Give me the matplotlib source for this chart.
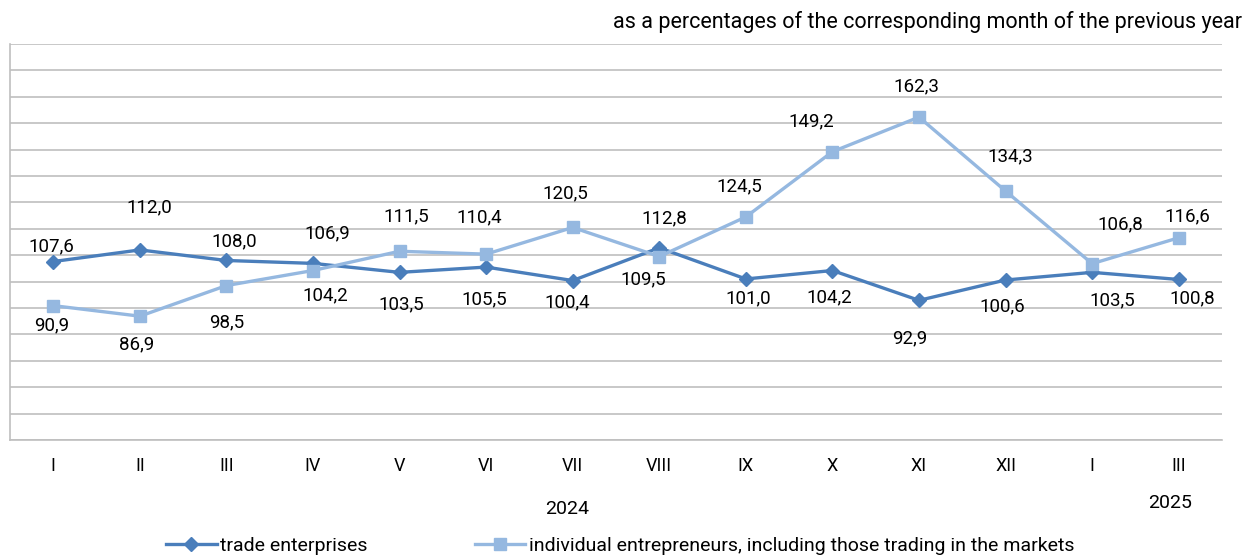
import matplotlib.pyplot as plt

plt.rcParams['font.family'] = ['Roboto', 'DejaVu Sans']

months = ['I', 'II', 'III', 'IV', 'V', 'VI', 'VII', 'VIII', 'IX', 'X', 'XI', 'XII', 'I', 'III']
trade = [107.6, 112.0, 108.0, 106.9, 103.5, 105.5, 100.4, 112.8, 101.0, 104.2, 92.9, 100.6, 103.5, 100.8]
individual = [90.9, 86.9, 98.5, 104.2, 111.5, 110.4, 120.5, 109.5, 124.5, 149.2, 162.3, 134.3, 106.8, 116.6]

# hand-placed label offsets in pixels (dx, dy downwards), as in the source chart
trade_off = [(-2, -15), (9, -43), (8, -19), (14, -30), (2, 32), (-2, 32), (-5, 22),
             (5, -29), (2, 19), (-3, 27), (-9, 38), (-3, 26), (20, 28), (14, 19)]
indiv_off = [(-2, 20), (-3, 28), (0, 37), (12, 25), (7, -35), (-7, -37), (-7, -34),
             (-16, 23), (-7, -31), (-21, -30), (-3, -31), (5, -35), (28, -39), (9, -21)]

dark = '#4a7ebb'
light = '#95b8e0'

fig = plt.figure(figsize=(12.44, 5.55), dpi=100)
ax = fig.add_axes([10 / 1244, 1 - 440 / 555, 1212 / 1244, 396 / 555])

x = list(range(len(months)))
ax.plot(x, trade, color=dark, lw=2.4, marker='D', ms=7, label='trade enterprises', zorder=3)
ax.plot(x, individual, color=light, lw=2.4, marker='s', ms=9,
        label='individual entrepreneurs, including those trading in the markets', zorder=4)

for i in x:
    ax.annotate(f'{trade[i]:.1f}'.replace('.', ','), (i, trade[i]),
                xytext=(trade_off[i][0], -trade_off[i][1]),
                textcoords='offset pixels', ha='center', va='center', fontsize=13.5)
    ax.annotate(f'{individual[i]:.1f}'.replace('.', ','), (i, individual[i]),
                xytext=(indiv_off[i][0], -indiv_off[i][1]),
                textcoords='offset pixels', ha='center', va='center', fontsize=13.5)

ax.set_xlim(-0.5, len(months) - 0.5)
ax.set_ylim(40, 190)
ax.set_yticks(range(40, 191, 10))
ax.yaxis.grid(True, color='#bfbfbf', lw=1.2)
ax.set_axisbelow(True)
ax.tick_params(axis='y', left=False, labelleft=False)
ax.tick_params(axis='x', length=0, pad=12, labelsize=13)
ax.set_xticks(x)
ax.set_xticklabels(months)
for s in ['top', 'right']:
    ax.spines[s].set_visible(False)
for s in ['left', 'bottom']:
    ax.spines[s].set_color('#bfbfbf')
    ax.spines[s].set_linewidth(1.2)

fig.text(567 / 1244, 1 - 509 / 555, '2024', ha='center', va='center', fontsize=14)
fig.text(1170 / 1244, 1 - 503 / 555, '2025', ha='center', va='center', fontsize=14)
fig.text(613 / 1244, 1 - 22 / 555, 'as a percentages of the corresponding month of the previous year',
         ha='left', va='center', fontsize=15.5)

fig.legend(loc='center left', bbox_to_anchor=(166 / 1244, 1 - 546 / 555), ncol=2, frameon=False,
           fontsize=14, handlelength=2.6, handletextpad=0.2, columnspacing=5.5, borderaxespad=0,
           borderpad=0)

fig.savefig('out.png', dpi=100)
